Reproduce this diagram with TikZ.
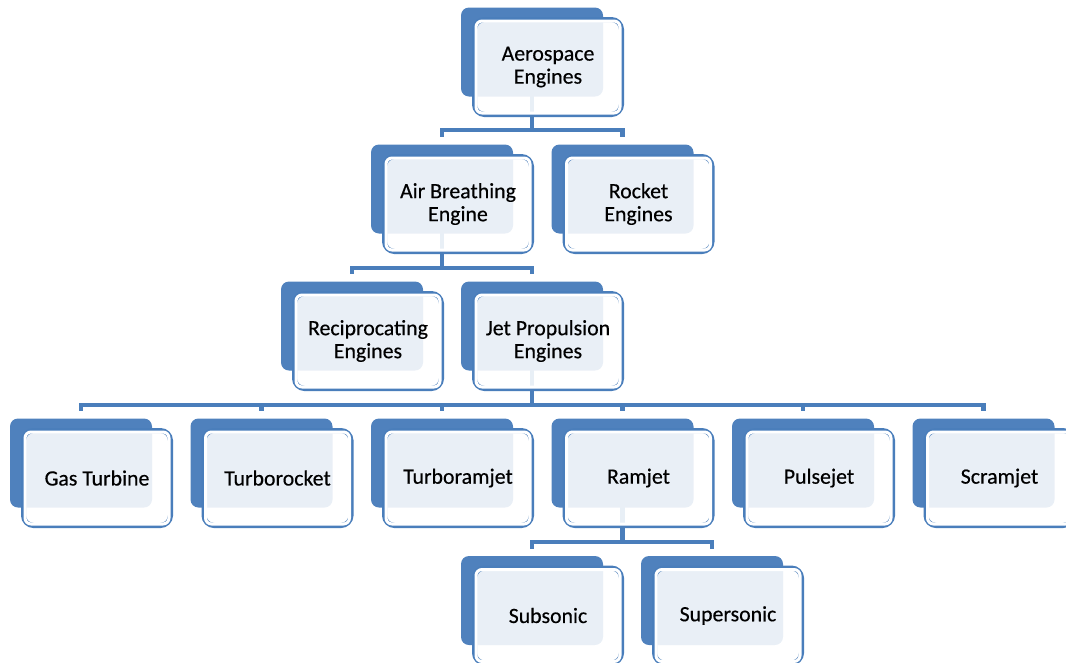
\documentclass[tikz,border=0pt]{standalone}
\usepackage{fontspec}
\setmainfont{Carlito}
\newfontfamily\boxfont{Carlito}[FakeBold=0.4]
\usetikzlibrary{calc,backgrounds}
\definecolor{boxblue}{HTML}{4F81BD}
\definecolor{lineblue}{HTML}{4A7EBB}
\tikzset{
  backbox/.style={rectangle, rounded corners=8pt, fill=boxblue, minimum width=142pt, minimum height=89pt, inner sep=0pt},
  frontbox/.style={rectangle, rounded corners=10pt, draw=lineblue, line width=5pt, fill=white, fill opacity=0.88, text opacity=1, minimum width=147pt, minimum height=95pt, inner sep=0pt, align=center, font=\boxfont\fontsize{21.8}{23}\selectfont},
  innerline/.style={draw=white, line width=3pt, rounded corners=6pt},
  conn/.style={draw=lineblue, line width=4.7pt},
}
\newcommand{\entity}[4]{%
  \node[backbox] (#1B) at (#2,#3) {};
  \node[frontbox] (#1) at ($(#1B)+(16,15)$) {#4};
  \draw[innerline] ([shift={(4,4)}]#1.north west) rectangle ([shift={(-4,-4)}]#1.south east);
}
\begin{document}
\begin{tikzpicture}[x=1pt,y=-1pt]
\useasboundingbox (0,0) rectangle (1066,662);
\entity{aero}{532}{52}{Aerospace\\Engines}
\entity{air}{442}{189}{Air Breathing\\Engine}
\entity{rocket}{622.5}{189}{Rocket\\Engines}
\entity{recip}{352}{326}{Reciprocating\\Engines}
\entity{jet}{532}{326}{Jet Propulsion\\Engines}
\entity{gas}{81}{463}{Gas Turbine}
\entity{turbo}{261.5}{463}{Turborocket}
\entity{tram}{442}{463}{Turboramjet}
\entity{ram}{622.5}{463}{Ramjet}
\entity{pulse}{803}{463}{Pulsejet}
\entity{scram}{983.5}{463}{Scramjet}
\entity{sub}{532}{600.5}{Subsonic}
\entity{sup}{712}{600.5}{Supersonic}
\begin{scope}[on background layer]
  \coordinate (aeroBus) at ($(aeroB |- aero.south)+(0,13)$);
  \draw[conn] (aeroB.center) -- (aeroBus) -| ($(airB.north)+(0,-7)$);
  \draw[conn] (aeroBus) -| ($(rocketB.north)+(0,-7)$);
  \coordinate (airBus) at ($(airB |- air.south)+(0,14)$);
  \draw[conn] (airB.center) -- (airBus) -| ($(recipB.north)+(0,-7)$);
  \draw[conn] (airBus) -| ($(jetB.north)+(0,-7)$);
  \coordinate (jetBus) at ($(jetB |- jet.south)+(0,14)$);
  \draw[conn] (jetB.center) -- (jetBus) -| ($(gasB.north)+(0,-7)$);
  \draw[conn] (jetBus) -| ($(turboB.north)+(0,-7)$);
  \draw[conn] (jetBus) -| ($(tramB.north)+(0,-7)$);
  \draw[conn] (jetBus) -| ($(ramB.north)+(0,-7)$);
  \draw[conn] (jetBus) -| ($(pulseB.north)+(0,-7)$);
  \draw[conn] (jetBus) -| ($(scramB.north)+(0,-7)$);
  \coordinate (ramBus) at ($(ramB |- ram.south)+(0,14)$);
  \draw[conn] (ramB.center) -- (ramBus) -| ($(subB.north)+(0,-7)$);
  \draw[conn] (ramBus) -| ($(supB.north)+(0,-7)$);
\end{scope}
\end{tikzpicture}
\end{document}
